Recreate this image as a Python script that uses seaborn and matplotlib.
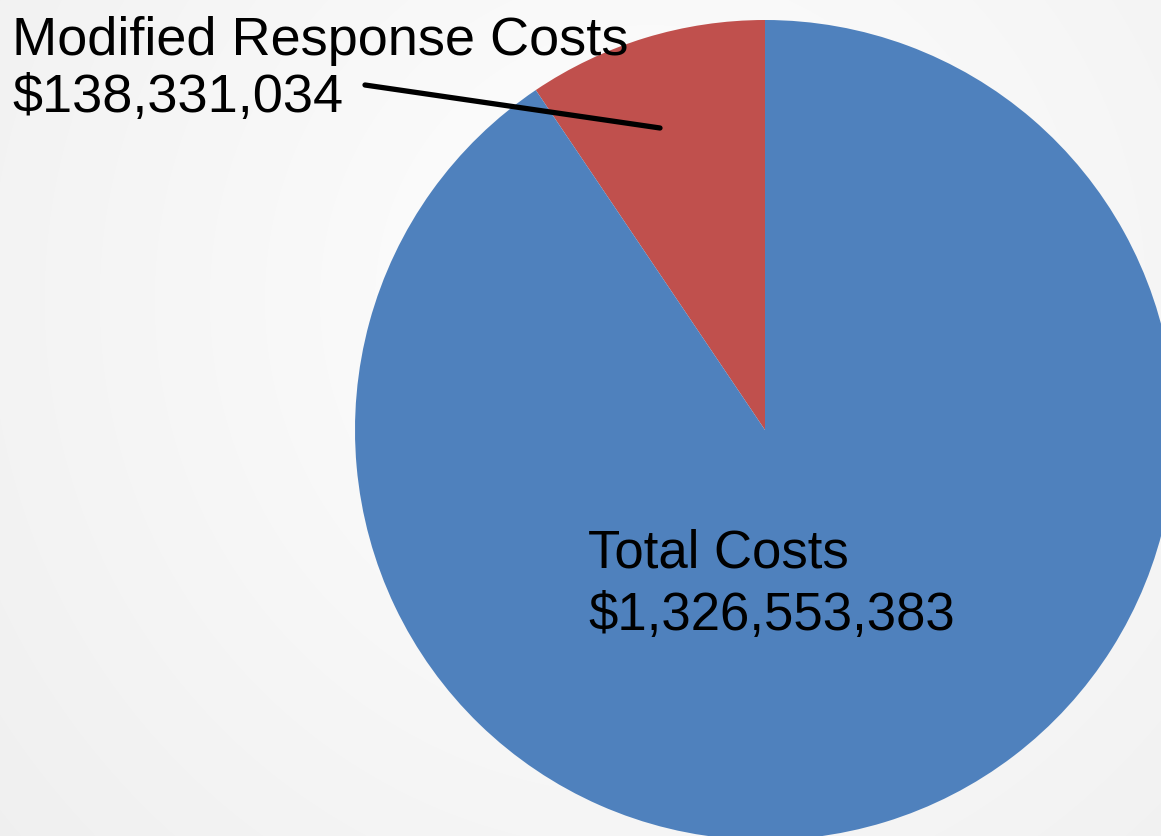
import numpy as np
import matplotlib
matplotlib.use("Agg")
import matplotlib.pyplot as plt
import seaborn as sns

sns.set_theme(style="white")

labels = ["Modified Response Costs", "Total Costs"]
values = [138331034, 1326553383]
colors = ["#C0504D", "#4F81BD"]

W, H = 1161, 836
fig = plt.figure(figsize=(W / 100, H / 100), dpi=100)

# subtle radial background gradient
bg = fig.add_axes([0, 0, 1, 1], zorder=0)
yy, xx = np.mgrid[0:H, 0:W]
d = np.hypot(xx - 650, yy - 300) / np.hypot(650, 836 - 300)
shade = 1.0 - 0.06 * np.clip(d, 0, 1.2)
bg.imshow(np.dstack([shade] * 3), extent=[0, W, H, 0], aspect="auto")
bg.axis("off")

# pie axes: center (765,430) px, radius 410 px
cx, cy, r = 765, 430, 410
ax = fig.add_axes([(cx - r) / W, (H - cy - r) / H, 2 * r / W, 2 * r / H], zorder=1)
ax.pie(values, colors=colors, startangle=90, counterclock=True,
       wedgeprops=dict(linewidth=0))
ax.set_xlim(-1, 1)
ax.set_ylim(-1, 1)
ax.set_aspect("auto")
ax.axis("off")

fam = ["Liberation Sans", "DejaVu Sans"]


def px(x, y):
    return x / W, 1 - y / H


# label for the small slice (two lines, baselines placed separately)
fig.text(*px(12, 55), labels[0], ha="left", va="baseline", fontsize=39,
         family=fam, color="black", zorder=3)
fig.text(*px(12, 112), f"${values[0]:,}", ha="left", va="baseline", fontsize=39,
         family=fam, color="black", zorder=3)

# label for the large slice
fig.text(*px(588, 568), labels[1], ha="left", va="baseline", fontsize=38,
         family=fam, color="black", zorder=3)
fig.text(*px(588, 630), f"${values[1]:,}", ha="left", va="baseline", fontsize=38,
         family=fam, color="black", zorder=3)

# leader line
fig.add_artist(plt.Line2D([365 / W, 660 / W], [1 - 85 / H, 1 - 128 / H],
                          transform=fig.transFigure, color="black", lw=3.8, zorder=4))

fig.savefig("out.png", dpi=100)
